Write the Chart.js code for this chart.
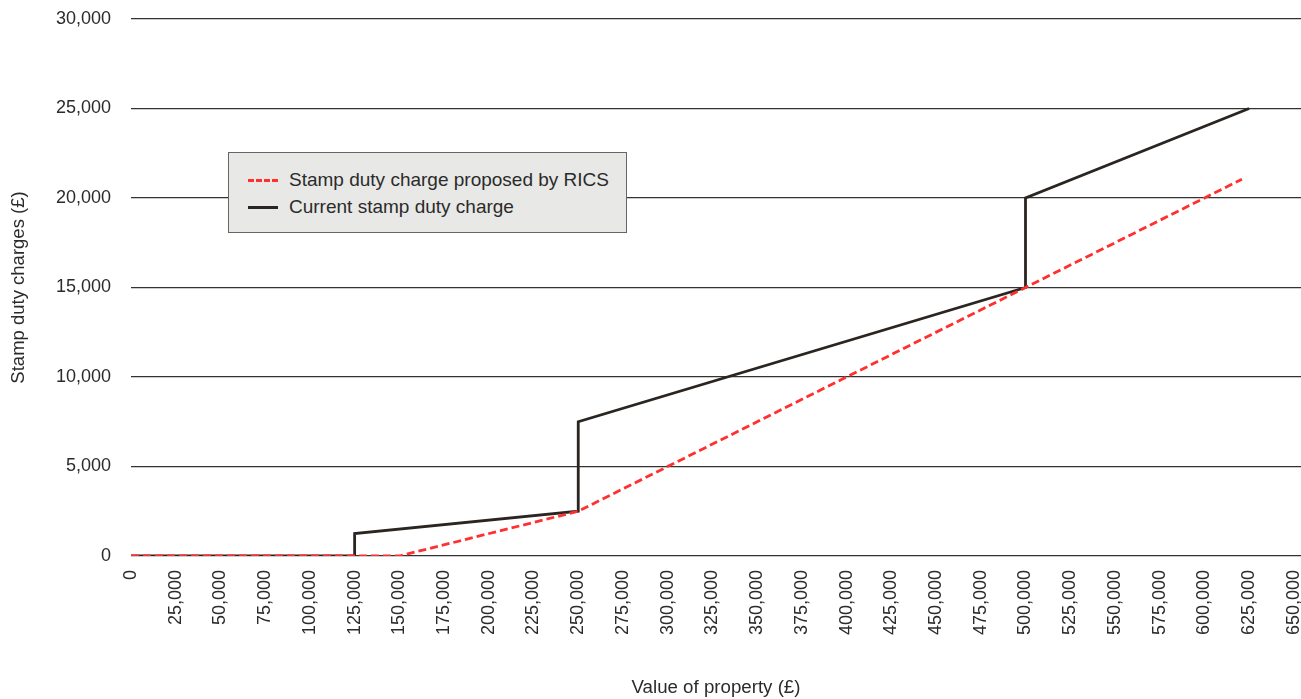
<!DOCTYPE html>
<html>
<head>
<meta charset="utf-8">
<script src="https://cdn.jsdelivr.net/npm/chart.js@4/dist/chart.umd.min.js"></script>
<style>
  html, body { margin: 0; padding: 0; background: #fff; }
  #wrap { position: relative; width: 1301px; height: 699px; }
  #legend {
    position: absolute; left: 228px; top: 152px; width: 397px; height: 79px;
    background: #e8e8e6; border: 1px solid #666;
    font-family: "Liberation Sans", Arial, sans-serif; font-size: 19px; color: #2b2b2b;
  }
  .item { position: absolute; left: 19px; height: 22px; display: flex; align-items: center; }
  .swatch { width: 30px; height: 0; margin-right: 11px; }
</style>
</head>
<body>
<div id="wrap">
  <canvas id="c" width="1301" height="699"></canvas>
  <div id="legend"></div>
</div>
<script>
const seriesLabels = ["Stamp duty charge proposed by RICS", "Current stamp duty charge"];
const ricsX = [0, 150000, 250000, 500000, 621000];
const ricsY = [0, 0, 2500, 15000, 21050];
const currentX = [0, 125000, 125000, 250000, 250000, 500000, 500000, 625000];
const currentY = [0, 0, 1250, 2500, 7500, 15000, 20000, 25000];
const xTicks = [0, 25000, 50000, 75000, 100000, 125000, 150000, 175000, 200000, 225000, 250000,
  275000, 300000, 325000, 350000, 375000, 400000, 425000, 450000, 475000, 500000, 525000,
  550000, 575000, 600000, 625000, 650000];
const yTicks = [0, 5000, 10000, 15000, 20000, 25000, 30000];

const toPts = (xs, ys) => xs.map((x, i) => ({ x: x, y: ys[i] }));
const fmt = v => Number(v).toLocaleString('en-GB');
const FONT = "'Liberation Sans', Arial, sans-serif";
const TXT = '#2b2b2b';

const datasets = [
  { label: seriesLabels[0], data: toPts(ricsX, ricsY), borderColor: '#ff3030', borderWidth: 2.8,
    borderDash: [8, 4], pointRadius: 0, fill: false, tension: 0 },
  { label: seriesLabels[1], data: toPts(currentX, currentY), borderColor: '#2a2520', borderWidth: 2.8,
    pointRadius: 0, fill: false, tension: 0 }
];

new Chart(document.getElementById('c'), {
  type: 'scatter',
  data: { datasets: datasets.map(d => Object.assign({ showLine: true }, d)) },
  options: {
    responsive: false, animation: false,
    layout: { padding: { top: 19, right: 0, bottom: 0, left: 0 } },
    plugins: { legend: { display: false }, tooltip: { enabled: false } },
    scales: {
      x: {
        type: 'linear', min: 0, max: 654000,
        afterBuildTicks: s => { s.ticks = xTicks.map(v => ({ value: v })); },
        afterFit: s => { s.height = 143; s.paddingLeft = 0; s.paddingRight = 0; },
        grid: { display: false, drawTicks: false },
        border: { display: false },
        ticks: { autoSkip: false, minRotation: 90, maxRotation: 90, padding: 14,
          color: TXT, font: { family: FONT, size: 18 }, callback: v => fmt(v) },
        title: { display: true, text: 'Value of property (£)', color: TXT,
          font: { family: FONT, size: 18.7 }, padding: { top: 0, bottom: 0 } }
      },
      y: {
        type: 'linear', min: 0, max: 30000,
        afterBuildTicks: s => { s.ticks = yTicks.map(v => ({ value: v })); },
        afterFit: s => { s.width = 131; s.paddingTop = 0; s.paddingBottom = 0; },
        grid: { color: '#333', lineWidth: 1.2, drawTicks: false },
        border: { display: false },
        ticks: { padding: 20, color: TXT, font: { family: FONT, size: 18 }, callback: v => fmt(v) },
        title: { display: true, text: 'Stamp duty charges (£)', color: TXT,
          font: { family: FONT, size: 18.5 }, padding: { top: 8, bottom: 0 } }
      }
    }
  }
});

// HTML legend built from the datasets
const leg = document.getElementById('legend');
datasets.forEach((d, i) => {
  const it = document.createElement('div');
  it.className = 'item';
  it.style.top = (16 + i * 27) + 'px';
  const sw = document.createElement('span');
  sw.className = 'swatch';
  sw.style.borderTop = d.borderDash ? '3px dashed ' + d.borderColor : '3px solid ' + d.borderColor;
  const tx = document.createElement('span');
  tx.textContent = d.label;
  it.appendChild(sw); it.appendChild(tx);
  leg.appendChild(it);
});
</script>
</body>
</html>
